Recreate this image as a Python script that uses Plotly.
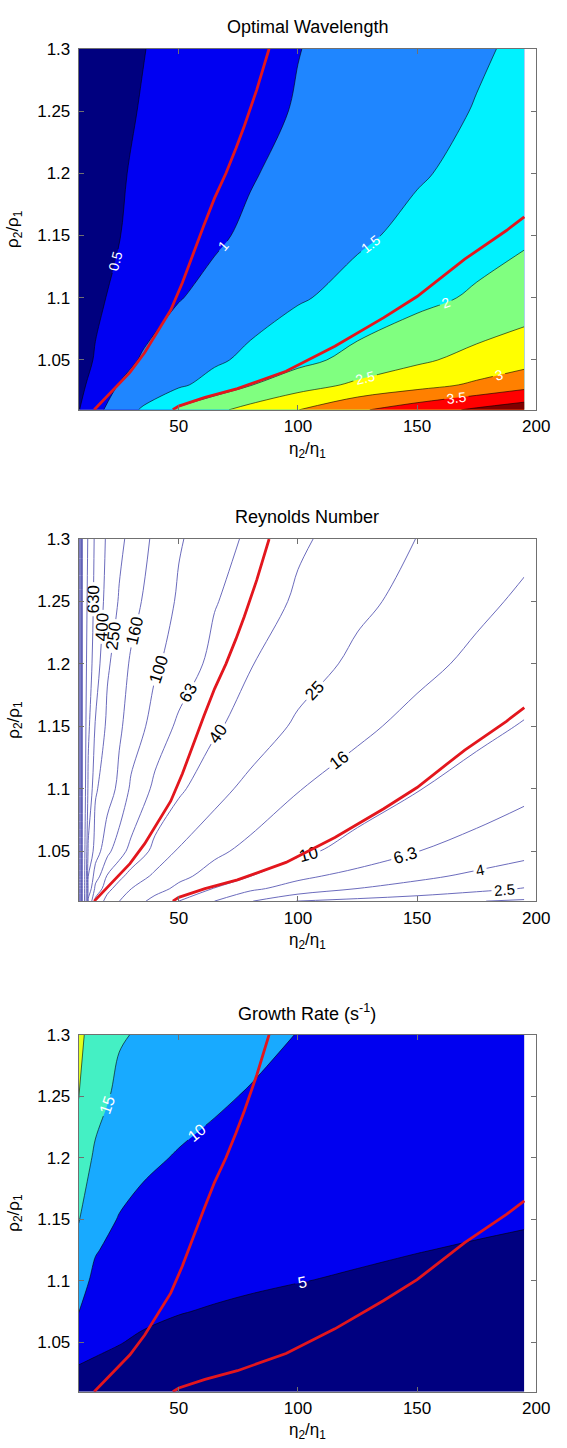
import plotly.graph_objects as go

# ---------------- data ----------------
# Plot 1: optimal wavelength (filled contours)
WL_X = [8, 15, 25, 35, 50, 65, 80, 100, 125, 150, 175, 195]
WL_Y = [1.01, 1.03, 1.05, 1.1, 1.15, 1.2, 1.25, 1.3]
WAVELENGTH = [
    [0.48, 0.87, 1.24, 1.56, 2.08, 2.39, 2.66, 2.99, 3.43, 3.77, 4.08, 4.30],
    [0.39, 0.65, 1.02, 1.18, 1.42, 1.69, 1.98, 2.28, 2.59, 2.82, 3.08, 3.32],
    [0.33, 0.53, 0.83, 1.05, 1.24, 1.42, 1.61, 1.86, 2.15, 2.42, 2.65, 2.81],
    [0.32, 0.43, 0.59, 0.74, 0.98, 1.12, 1.26, 1.45, 1.66, 1.86, 2.07, 2.23],
    [0.31, 0.38, 0.49, 0.61, 0.77, 0.94, 1.07, 1.23, 1.43, 1.61, 1.79, 1.93],
    [0.31, 0.38, 0.47, 0.56, 0.70, 0.83, 0.97, 1.12, 1.29, 1.46, 1.61, 1.72],
    [0.30, 0.35, 0.44, 0.52, 0.64, 0.76, 0.88, 1.03, 1.20, 1.36, 1.52, 1.62],
    [0.29, 0.34, 0.42, 0.49, 0.61, 0.72, 0.83, 0.99, 1.14, 1.30, 1.45, 1.57],
]
WL_COLORS = ["#00007f", "#0000f2", "#1f86ff", "#00f2ff", "#80ff80",
             "#ffff00", "#ff8000", "#ff0000", "#800000"]

# Plot 2: Reynolds number (line contours)
RE_X = [8, 9.5, 12, 15, 20, 25, 30, 40, 50, 65, 80, 100, 125, 150, 175, 195]
RE_Y = [1.01, 1.02, 1.03, 1.05, 1.1, 1.15, 1.2, 1.25, 1.3]
REYNOLDS = [
    [12000, 1500, 145, 54, 33.5, 25.1, 20, 13.6, 10, 6.3, 4.1, 2.44, 2.13, 1.87, 1.63, 1.48],
    [12000, 1500, 215, 85.8, 45.2, 33, 25.1, 18.8, 14.3, 9.76, 6.8, 5.23, 3.98, 3.34, 2.79, 2.45],
    [12000, 1500, 251, 123, 59.6, 44.7, 33.5, 22.4, 17.8, 13.2, 10.05, 6.9, 5.37, 4.39, 3.64, 3.16],
    [12000, 1500, 363, 197, 112, 73.6, 55, 34.7, 23.6, 17.5, 14, 11, 8.3, 6.35, 5.2, 4.5],
    [12000, 1500, 575, 263, 195, 143, 90.6, 56.1, 43, 28.8, 21.8, 16.3, 12.8, 10.2, 8.2, 7.0],
    [12000, 1500, 678, 385, 221, 171, 131, 80.3, 57.7, 42.7, 31.9, 23.1, 17.5, 13.9, 11.2, 9.7],
    [12000, 1500, 794, 483, 267, 194, 151, 107, 79.4, 55, 40.9, 30.3, 22.5, 17.9, 14.5, 12.5],
    [12000, 1500, 880, 530, 338, 239, 185, 127, 94, 64.7, 50.3, 37.2, 27.4, 21.6, 17.5, 14.9],
    [12000, 1500, 955, 562, 368, 278, 217, 144, 104, 75.7, 57.5, 42.7, 32.1, 24.8, 20.6, 17.7],
]
RE_LEVELS = [1.6, 2.5, 4, 6.3, 10, 16, 25, 40, 63, 100, 160, 250, 400, 630,
             1000, 1600, 2500, 4000, 6300, 10000]

# Plot 3: growth rate (filled contours)
GR_X = [8, 15, 25, 35, 50, 65, 80, 100, 125, 150, 175, 195]
GR_Y = [1.01, 1.03, 1.05, 1.075, 1.1, 1.125, 1.15, 1.2, 1.25, 1.3]
GROWTH = [
    [2.8, 3.3, 3.2, 2.9, 2.7, 2.7, 2.7, 2.8, 2.9, 2.9, 2.9, 2.9],
    [4.8, 4.5, 4.2, 3.7, 3.5, 3.4, 3.3, 3.4, 3.3, 3.3, 3.2, 3.2],
    [7.1, 5.7, 5.1, 4.6, 4.2, 4.0, 3.9, 3.8, 3.7, 3.7, 3.6, 3.5],
    [10.1, 7.3, 6.3, 5.6, 5.1, 4.8, 4.6, 4.4, 4.3, 4.1, 4.0, 3.9],
    [11.8, 8.9, 7.4, 6.7, 6.0, 5.6, 5.3, 5.05, 4.8, 4.6, 4.4, 4.3],
    [13.6, 10.3, 8.6, 7.8, 7.0, 6.5, 6.1, 5.7, 5.3, 5.05, 4.85, 4.7],
    [15.2, 11.6, 9.8, 8.8, 7.9, 7.3, 6.8, 6.3, 5.8, 5.5, 5.3, 5.15],
    [17.6, 14.3, 11.9, 10.8, 9.7, 8.9, 8.3, 7.5, 6.9, 6.5, 6.2, 6.0],
    [20.1, 16.6, 14.0, 12.7, 11.6, 10.6, 9.7, 8.7, 7.9, 7.4, 7.0, 6.8],
    [20.7, 18.6, 15.4, 14.5, 13.4, 12.4, 11.3, 9.9, 9.0, 8.3, 7.8, 7.6],
]
GR_COLORS = ["#000080", "#0000f0", "#18aaff", "#44f0c4", "#e2ff1e"]

# Red reference curves (identical on all three panels)
RED_A_X = [14.5, 19, 23.4, 29.5, 35.7, 41, 46.6, 51.5, 56.1, 60.5, 65, 69.8, 74, 77.5, 82.7, 87.9]
RED_A_Y = [1.01, 1.019, 1.027, 1.04, 1.056, 1.072, 1.09, 1.112, 1.136, 1.158, 1.18, 1.2, 1.22, 1.238, 1.267, 1.3]
RED_B_X = [47.5, 50, 61, 74.6, 95, 115.5, 136, 150, 170, 187.5, 195]
RED_B_Y = [1.01, 1.013, 1.02, 1.027, 1.041, 1.061, 1.084, 1.101, 1.131, 1.154, 1.165]

X_TICKS = [50, 100, 150, 200]
Y_TICKS = [1.05, 1.1, 1.15, 1.2, 1.25, 1.3]
Y_TICKTEXT = ["1.05", "1.1", "1.15", "1.2", "1.25", "1.3"]

# ---------------- figure ----------------
W, H = 567, 1448
FONT = "Liberation Sans, Arial, Helvetica, sans-serif"
XDOM = [80.7 / W, 549.8 / W]
PANELS = [(40, 403.3), (533.3, 897.7), (1032, 1391.3)]  # top/bottom px


def ydom(top, bot):
    return [1 - bot / H, 1 - top / H]


def scale(colors):
    n = len(colors) - 1
    return [[i / n, c] for i, c in enumerate(colors)]


fig = go.Figure()

# Panel 1
fig.add_trace(go.Contour(
    x=WL_X, y=WL_Y, z=WAVELENGTH, xaxis="x", yaxis="y",
    autocontour=False,
    contours=dict(start=0.5, end=4, size=0.5, coloring="fill", showlabels=True,
                  labelfont=dict(family=FONT, size=14, color="white")),
    colorscale=scale(WL_COLORS), showscale=False,
    line=dict(color="black", width=0.6), hoverinfo="skip"))

# Panel 2: one trace per level
for lev in RE_LEVELS:
    fs = 15 if lev < 5 else 17
    fig.add_trace(go.Contour(
        x=RE_X, y=RE_Y, z=REYNOLDS, xaxis="x2", yaxis="y2",
        autocontour=False,
        contours=dict(start=lev, end=lev, size=1, coloring="none", showlabels=True,
                      labelfont=dict(family=FONT, size=fs, color="black")),
        line=dict(color="#5a5ab4", width=0.9), showscale=False, hoverinfo="skip"))

# Panel 3
fig.add_trace(go.Contour(
    x=GR_X, y=GR_Y, z=GROWTH, xaxis="x3", yaxis="y3",
    autocontour=False,
    contours=dict(start=5, end=20, size=5, coloring="fill", showlabels=True,
                  labelfont=dict(family=FONT, size=16, color="white")),
    colorscale=scale(GR_COLORS), showscale=False,
    line=dict(color="black", width=0.6), hoverinfo="skip"))

# Red curves
for xa, ya in [("x", "y"), ("x2", "y2"), ("x3", "y3")]:
    for rx, ry in [(RED_A_X, RED_A_Y), (RED_B_X, RED_B_Y)]:
        fig.add_trace(go.Scatter(x=rx, y=ry, xaxis=xa, yaxis=ya, mode="lines",
                                 line=dict(color="#e3161d", width=2.8),
                                 hoverinfo="skip", showlegend=False))

axis_common = dict(showline=True, linecolor="#707070", linewidth=1, mirror="ticks",
                   ticks="inside", ticklen=5, tickcolor="#707070", showgrid=False,
                   zeroline=False,
                   tickfont=dict(family=FONT, size=17, color="black"))

layout = dict(width=W, height=H, margin=dict(l=0, r=0, t=0, b=0),
              paper_bgcolor="white", plot_bgcolor="white", showlegend=False,
              font=dict(family=FONT, color="black"))
names = [("xaxis", "yaxis", "y", "x"), ("xaxis2", "yaxis2", "y2", "x2"),
         ("xaxis3", "yaxis3", "y3", "x3")]
for (xn, yn, yref, xref), (top, bot) in zip(names, PANELS):
    layout[xn] = dict(axis_common, domain=XDOM, anchor=yref, range=[8, 200],
                      tickvals=X_TICKS, ticktext=[str(v) for v in X_TICKS],
                      ticklabelstandoff=1)
    layout[yn] = dict(axis_common, domain=ydom(top, bot), anchor=xref, range=[1.01, 1.3],
                      tickvals=Y_TICKS, ticktext=Y_TICKTEXT, ticklabelstandoff=4)
fig.update_layout(**layout)

TITLES = ["Optimal Wavelength", "Reynolds Number", "Growth Rate (s<sup>-1</sup>)"]
ann = []
xc = (XDOM[0] + XDOM[1]) / 2
for title, (top, bot) in zip(TITLES, PANELS):
    ann.append(dict(text=title, x=xc, y=1 - (top - 22) / H, xref="paper", yref="paper",
                    xanchor="center", yanchor="middle", showarrow=False,
                    font=dict(family=FONT, size=18, color="black")))
    ann.append(dict(text="η<sub>2</sub>/η<sub>1</sub>", x=xc, y=1 - (bot + 27) / H,
                    xref="paper", yref="paper", xanchor="center", yanchor="top",
                    showarrow=False, font=dict(family=FONT, size=17, color="black")))
    ann.append(dict(text="ρ<sub>2</sub>/ρ<sub>1</sub>", x=15 / W, y=1 - ((top + bot) / 2) / H,
                    xref="paper", yref="paper", xanchor="center", yanchor="middle",
                    textangle=-90, showarrow=False,
                    font=dict(family=FONT, size=17, color="black")))
fig.update_layout(annotations=ann)

fig.write_html("out.html")
